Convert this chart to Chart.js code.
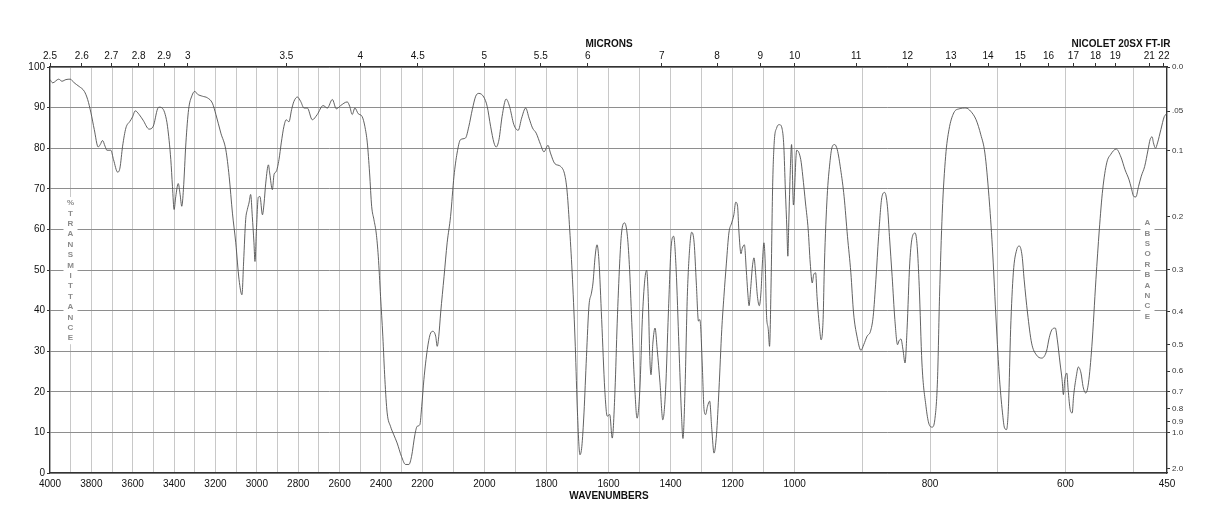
<!DOCTYPE html>
<html>
<head>
<meta charset="utf-8">
<style>
  html, body { margin: 0; padding: 0; background: #fff; }
  canvas { display: block; }
</style>
<script src="https://cdn.jsdelivr.net/npm/chart.js@4/dist/chart.umd.min.js"></script>
</head>
<body>
<canvas id="ir" width="1218" height="528"></canvas>
<script>
// Spectrum: wavenumber (cm-1) and % transmittance.
const wavenumbers = [
  4000, 3987, 3958, 3942, 3923, 3902, 3883, 3859, 3834, 3818, 3802, 3786, 3767, 3757, 3746, 3734,
  3725, 3706, 3693, 3673, 3662, 3649, 3633, 3614, 3601, 3588, 3569, 3550, 3521, 3501, 3480, 3472,
  3456, 3443, 3432, 3416, 3408, 3400, 3392, 3380, 3371, 3363, 3355, 3343, 3330, 3314, 3300, 3287,
  3263, 3239, 3215, 3198, 3174, 3150, 3134, 3118, 3102, 3086, 3072, 3064, 3054, 3046, 3038, 3030,
  3022, 3014, 3009, 3002, 2993, 2985, 2973, 2965, 2957, 2944, 2938, 2925, 2917, 2906, 2893, 2882,
  2869, 2858, 2845, 2832, 2821, 2804, 2788, 2772, 2756, 2732, 2708, 2680, 2659, 2635, 2616, 2595,
  2563, 2551, 2539, 2526, 2510, 2491, 2478, 2466, 2455, 2445, 2434, 2423, 2413, 2402, 2391, 2381,
  2370, 2354, 2338, 2322, 2301, 2281, 2265, 2252, 2236, 2225, 2212, 2203, 2195, 2184, 2175, 2166,
  2157, 2152, 2147, 2141, 2130, 2120, 2109, 2098, 2088, 2077, 2061, 2050, 2039, 2028, 2018, 2002,
  1991, 1980, 1969, 1962, 1953, 1943, 1930, 1919, 1905, 1891, 1880, 1867, 1856, 1845, 1833, 1819,
  1808, 1795, 1787, 1773, 1754, 1740, 1733, 1725, 1716, 1707, 1700, 1692, 1686, 1679, 1671, 1663,
  1655, 1650, 1643, 1637, 1631, 1622, 1612, 1604, 1596, 1588, 1579, 1572, 1564, 1558, 1548, 1539,
  1532, 1524, 1515, 1508, 1499, 1491, 1483, 1477, 1472, 1467, 1463, 1457, 1450, 1443, 1434, 1425,
  1416, 1407, 1398, 1390, 1382, 1373, 1365, 1360, 1354, 1346, 1338, 1332, 1324, 1317, 1310, 1306,
  1303, 1298, 1292, 1287, 1281, 1274, 1267, 1260, 1252, 1244, 1235, 1228, 1220, 1212, 1203, 1196,
  1190, 1184, 1180, 1173, 1169, 1162, 1156, 1151, 1147, 1142, 1136, 1131, 1126, 1120, 1114, 1108,
  1104, 1099, 1095, 1091, 1085, 1081, 1076, 1071, 1066, 1058, 1049, 1040, 1035, 1030, 1025, 1022,
  1019, 1014, 1010, 1004, 997, 991, 988, 984, 980, 977, 974, 972, 969, 967, 963, 961,
  958, 956, 952, 948, 945, 941, 937, 932, 927, 922, 917, 913, 908, 902, 898, 893,
  888, 884, 880, 876, 871, 867, 863, 860, 856, 852, 848, 846, 843, 840, 837, 834,
  830, 826, 822, 819, 816, 812, 806, 802, 797, 793, 789, 786, 782, 777, 772, 765,
  757, 747, 740, 732, 725, 719, 713, 708, 703, 698, 693, 690, 687, 684, 681, 677,
  672, 668, 664, 661, 656, 650, 643, 635, 628, 624, 620, 615, 612, 608, 605, 603,
  601, 598, 596, 593, 590, 588, 584, 581, 577, 574, 570, 566, 561, 555, 550, 545,
  539, 533, 525, 518, 512, 506, 503, 499, 496, 492, 488, 483, 478, 475, 472, 470,
  467, 464, 459, 454, 450,
];

const transmittance = [
  96.9, 96.1, 97.0, 96.5, 96.9, 97.0, 96.1, 95.2, 94.0, 92.0, 88.7, 84.6, 80.3, 80.9, 81.9, 80.5,
  79.5, 79.5, 77.2, 74.1, 75.1, 80.5, 85.0, 86.6, 87.7, 89.2, 88.3, 86.9, 84.7, 85.4, 89.7, 90.1,
  89.8, 88.3, 85.4, 77.2, 70.6, 64.9, 68.1, 71.3, 68.6, 65.7, 69.8, 81.3, 89.5, 92.9, 94.0, 93.3,
  92.8, 92.4, 91.1, 88.3, 83.7, 79.6, 73.1, 64.0, 56.7, 47.6, 43.9, 52.0, 62.4, 64.9, 66.5, 68.6,
  63.2, 56.7, 52.1, 59.9, 67.9, 68.1, 63.6, 66.5, 71.4, 75.9, 73.9, 69.8, 73.5, 74.3, 77.2, 81.3,
  85.4, 87.0, 86.5, 89.5, 91.5, 92.6, 91.5, 89.9, 89.9, 87.0, 88.3, 90.5, 89.9, 92.0, 89.7, 90.5,
  91.4, 90.3, 88.3, 89.9, 88.5, 87.8, 85.4, 81.3, 73.9, 65.7, 62.4, 59.1, 53.4, 43.5, 33.7, 23.0,
  14.8, 11.5, 9.4, 7.4, 4.1, 2.1, 2.1, 4.1, 9.4, 11.5, 11.9, 16.4, 23.0, 30.4, 34.1, 34.9,
  33.7, 31.2, 33.7, 39.4, 48.4, 56.7, 63.2, 73.1, 78.8, 82.1, 82.5, 85.4, 89.5, 92.8, 93.5, 92.6,
  90.3, 85.4, 81.3, 80.3, 82.1, 87.8, 92.1, 90.3, 85.8, 84.4, 87.4, 89.9, 87.4, 85.0, 83.7, 80.9,
  79.1, 80.7, 78.8, 76.2, 75.5, 73.1, 69.0, 59.9, 47.6, 31.2, 14.8, 4.5, 6.5, 14.8, 28.7, 41.1,
  44.3, 46.8, 53.4, 56.2, 52.5, 37.8, 20.5, 14.0, 14.4, 8.6, 20.5, 36.9, 51.7, 59.1, 61.6, 58.3,
  50.1, 35.3, 20.5, 13.5, 20.5, 37.8, 47.6, 49.9, 43.5, 28.7, 24.2, 32.0, 35.7, 30.4, 22.2, 13.1,
  20.5, 39.4, 55.8, 58.3, 50.1, 31.2, 14.8, 8.5, 18.9, 43.5, 55.8, 59.3, 56.7, 46.8, 37.4, 37.8,
  36.1, 27.1, 15.6, 14.4, 16.4, 17.7, 10.7, 4.9, 9.4, 20.5, 35.3, 43.5, 51.7, 59.1, 61.6, 63.6,
  66.7, 65.7, 59.9, 54.0, 55.3, 56.2, 50.1, 44.3, 41.2, 45.2, 51.0, 53.0, 49.3, 43.5, 41.2, 45.2,
  51.7, 56.7, 51.7, 39.4, 35.3, 31.2, 46.8, 70.6, 81.3, 85.0, 85.8, 84.6, 80.5, 69.8, 59.9, 53.4,
  61.6, 74.7, 80.9, 66.0, 79.5, 77.2, 73.1, 66.5, 59.9, 51.7, 46.8, 48.8, 49.3, 43.5, 35.3, 32.8,
  37.8, 51.7, 68.1, 76.4, 80.1, 80.9, 79.6, 74.7, 68.1, 58.3, 49.3, 39.4, 33.7, 30.2, 31.6, 33.7,
  34.9, 38.6, 47.6, 58.3, 68.1, 69.1, 65.7, 58.3, 48.4, 37.8, 31.6, 32.5, 33.0, 30.4, 27.1, 35.3,
  51.7, 58.3, 59.1, 55.8, 46.0, 27.1, 16.4, 12.3, 11.3, 13.1, 23.0, 43.5, 64.0, 78.0, 84.6, 88.7,
  89.7, 89.9, 89.1, 87.0, 83.3, 78.8, 68.1, 55.8, 39.4, 24.6, 14.8, 11.1, 10.7, 17.2, 35.3, 49.3,
  55.0, 55.9, 53.4, 47.6, 39.4, 32.0, 29.1, 28.3, 30.0, 33.3, 35.3, 35.7, 32.8, 27.1, 23.0, 19.3,
  23.0, 24.6, 20.5, 15.6, 14.8, 18.9, 23.8, 26.1, 24.6, 21.3, 19.7, 22.2, 31.2, 47.6, 59.9, 69.8,
  76.4, 78.5, 79.8, 77.8, 74.7, 72.2, 70.4, 68.1, 68.0, 70.6, 73.1, 75.5, 79.6, 82.1, 82.8, 81.3,
  80.0, 81.3, 84.6, 87.8, 88.5,
];

// Axis labels
const wavenumberLabels = [4000, 3800, 3600, 3400, 3200, 3000, 2800, 2600, 2400, 2200,
  2000, 1800, 1600, 1400, 1200, 1000, 800, 600, 450];
const micronLabels = [2.5, 2.6, 2.7, 2.8, 2.9, 3, 3.5, 4, 4.5, 5, 5.5, 6, 7, 8, 9, 10,
  11, 12, 13, 14, 15, 16, 17, 18, 19, 21, 22];
const absorbanceValues = [0, 0.05, 0.1, 0.2, 0.3, 0.4, 0.5, 0.6, 0.7, 0.8, 0.9, 1.0, 2.0];
const absorbanceLabels = ["0.0", ".05", "0.1", "0.2", "0.3", "0.4", "0.5", "0.6", "0.7",
  "0.8", "0.9", "1.0", "2.0"];

// The chart is drawn in three equal-width panels with different cm-1 scales:
// 4000-2200, 2200-1000, 1000-450. u runs 0..3 across them.
function toU(w) {
  if (w >= 2200) return (4000 - w) / 1800;
  if (w >= 1000) return 1 + (2200 - w) / 1200;
  return 2 + (1000 - w) / 550;
}
function fromU(u) {
  if (u <= 1) return 4000 - u * 1800;
  if (u <= 2) return 2200 - (u - 1) * 1200;
  return 1000 - (u - 2) * 550;
}

const gridWavenumbers = [];
for (let w = 4000; w >= 500; w -= 100) gridWavenumbers.push(w);
gridWavenumbers.push(450);

const FONT = "'Liberation Sans', Arial, Helvetica, sans-serif";

const labelsPlugin = {
  id: "irLabels",
  afterDraw(chart) {
    const ctx = chart.ctx;
    ctx.save();
    ctx.fillStyle = "#111";
    ctx.font = `bold 10px ${FONT}`;
    ctx.textAlign = "center";
    ctx.textBaseline = "middle";
    ctx.fillText("MICRONS", 609, 44);
    ctx.fillText("WAVENUMBERS", 609, 496);
    ctx.fillText("NICOLET 20SX FT-IR", 1121, 44);

    // stacked vertical captions with a white box behind them
    const stack = (text, x, y0) => {
      const step = 10.4;
      ctx.fillStyle = "#fff";
      ctx.fillRect(x - 7, y0 - 6, 14, step * (text.length - 1) + 12);
      ctx.fillStyle = "#8a8a8a";
      ctx.font = `bold 8px ${FONT}`;
      [...text].forEach((ch, i) => ctx.fillText(ch, x, y0 + i * step));
    };
    stack("%TRANSMITTANCE", 70.5, 203);
    stack("ABSORBANCE", 1147.5, 223);
    ctx.restore();
  },
};

const points = wavenumbers.map((w, i) => ({ x: toU(w), y: transmittance[i] }));

new Chart(document.querySelector("#ir"), {
  type: "line",
  data: {
    datasets: [
      {
        data: points,
        borderColor: "#505050",
        borderWidth: 0.9,
        pointRadius: 0,
        cubicInterpolationMode: "monotone",
        fill: false,
      },
    ],
  },
  options: {
    responsive: false,
    animation: false,
    events: [],
    layout: { padding: 0 },
    plugins: { legend: { display: false }, tooltip: { enabled: false } },
    scales: {
      x: {
        type: "linear",
        position: "bottom",
        min: 0,
        max: 3,
        afterBuildTicks: (scale) => {
          scale.ticks = gridWavenumbers.map((w) => ({ value: toU(w) }));
        },
        afterFit: (scale) => { scale.height = 55; },
        ticks: {
          autoSkip: false,
          maxRotation: 0,
          padding: 5,
          color: "#111",
          font: { family: FONT, size: 10 },
          callback: (value) => {
            const w = Math.round(fromU(value));
            return wavenumberLabels.includes(w) ? String(w) : "";
          },
        },
        grid: { color: "#c8c8c8", lineWidth: 1, drawTicks: false },
        border: { color: "#333", width: 1.2 },
      },
      x2: {
        type: "linear",
        position: "top",
        min: 0,
        max: 3,
        afterBuildTicks: (scale) => {
          scale.ticks = micronLabels.map((m) => ({ value: toU(10000 / m) }));
        },
        afterFit: (scale) => { scale.height = 67; },
        ticks: {
          autoSkip: false,
          maxRotation: 0,
          padding: 1,
          color: "#111",
          font: { family: FONT, size: 10 },
          callback: (value, i) => String(micronLabels[i]),
        },
        grid: { drawOnChartArea: false, drawTicks: true, tickLength: 4, color: "#333" },
        border: { color: "#333", width: 1.2 },
      },
      y: {
        type: "linear",
        position: "left",
        min: 0,
        max: 100,
        afterFit: (scale) => { scale.width = 50; },
        ticks: {
          stepSize: 10,
          padding: 2,
          color: "#111",
          font: { family: FONT, size: 10 },
        },
        grid: { color: "#8e8e8e", lineWidth: 1, tickLength: 3, tickColor: "#333" },
        border: { color: "#333", width: 1.2 },
      },
      y2: {
        type: "linear",
        position: "right",
        min: 0,
        max: 100,
        afterBuildTicks: (scale) => {
          scale.ticks = absorbanceValues.map((a) => ({ value: 100 * Math.pow(10, -a) }));
        },
        afterFit: (scale) => { scale.width = 51; },
        ticks: {
          autoSkip: false,
          padding: 2,
          color: "#333",
          font: { family: FONT, size: 8 },
          callback: (value, i) => absorbanceLabels[i],
        },
        grid: { drawOnChartArea: false, drawTicks: true, tickLength: 3, color: "#333" },
        border: { color: "#333", width: 1.2 },
      },
    },
  },
  plugins: [labelsPlugin],
});
</script>
</body>
</html>
